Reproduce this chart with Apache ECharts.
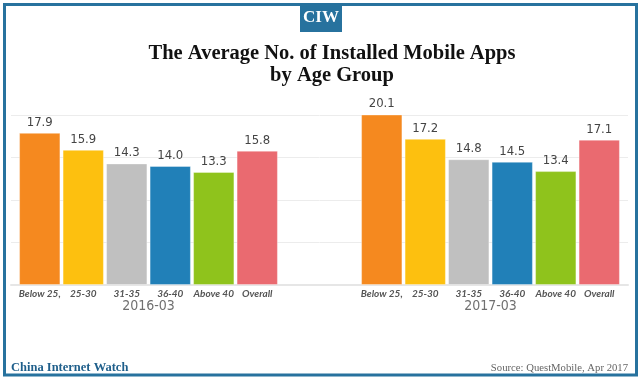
<!DOCTYPE html>
<html><head><meta charset="utf-8">
<script src="https://cdn.jsdelivr.net/npm/echarts@6/dist/echarts.min.js"></script>
<style>html,body{margin:0;padding:0;background:#fff}#c{width:640px;height:383px}</style>
</head><body><div id="c"></div>
<script>
const categories = ['Below 25,', '25-30', '31-35', '36-40', 'Above 40', 'Overall'];
const periods = ['2016-03', '2017-03'];
const values2016 = [17.9, 15.9, 14.3, 14.0, 13.3, 15.8];
const values2017 = [20.1, 17.2, 14.8, 14.5, 13.4, 17.1];
const yTicks = [0, 5, 10, 15, 20];

const barColors = ['#f5891f', '#fdc00f', '#c0c0c0', '#2180b8', '#8fc31c', '#ea6a70'];
const chart = echarts.init(document.getElementById('c'));
const GT = 115, GB = 98;
const yMin = yTicks[0], yMax = yTicks[yTicks.length - 1], yStep = yTicks[1] - yTicks[0];

function barSeries(vals, idx) {
  return {
    type: 'bar', xAxisIndex: idx, yAxisIndex: idx,
    barCategoryGap: '5%',
    data: vals.map((v, i) => ({ value: v, itemStyle: { color: barColors[i], borderColor: 'rgba(255,255,255,0.35)', borderWidth: 1 } })),
    label: { show: true, position: 'top', distance: 4, color: '#444', fontSize: 13,
      fontFamily: '"Liberation Sans Narrow", "DejaVu Sans Condensed", Roboto, sans-serif',
      formatter: p => p.value.toFixed(1) }
  };
}
function catAxis(gi) {
  return { type: 'category', gridIndex: gi, data: categories,
    axisLine: { show: false }, axisTick: { show: false },
    axisLabel: { interval: 0, margin: 4, fontSize: 10, fontStyle: 'italic', fontWeight: 'bold', color: '#555', fontFamily: 'Lato, "Open Sans", sans-serif' } };
}
function periodAxis(gi, p) {
  return { type: 'category', gridIndex: gi, position: 'bottom', data: [p],
    axisLine: { show: false }, axisTick: { show: false },
    axisLabel: { margin: 14, fontSize: 14, color: '#707070', fontFamily: '"Liberation Sans Narrow", "DejaVu Sans Condensed", sans-serif' } };
}
function valAxis(gi, showGrid) {
  return { type: 'value', gridIndex: gi, min: yMin, max: yMax, interval: yStep,
    axisLabel: { show: false }, axisLine: { show: false }, axisTick: { show: false },
    splitLine: { show: showGrid, lineStyle: { color: '#ececec', width: 1 } } };
}

chart.setOption({
  animation: false,
  title: { text: 'The Average No. of Installed Mobile Apps\nby Age Group', left: 327, top: 38, textAlign: 'center',
    textStyle: { fontFamily: '"Liberation Serif", "DejaVu Serif", serif', fontWeight: 'bold', fontSize: 20.5, color: '#111', lineHeight: 22 } },
  grid: [
    { left: 11, right: 12, top: GT, bottom: GB },
    { left: 18, width: 261, top: GT, bottom: GB },
    { left: 360, width: 261, top: GT, bottom: GB }
  ],
  xAxis: [
    { type: 'value', gridIndex: 0, min: 0, max: 1, axisLabel: { show: false }, axisTick: { show: false }, splitLine: { show: false },
      axisLine: { show: true, lineStyle: { color: '#e6e6e6', width: 2 } } },
    catAxis(1), catAxis(2), periodAxis(1, periods[0]), periodAxis(2, periods[1])
  ],
  yAxis: [ valAxis(0, true), valAxis(1, false), valAxis(2, false) ],
  series: [ barSeries(values2016, 1), barSeries(values2017, 2) ],
  graphic: [
    { type: 'rect', shape: { x: 4.5, y: 4.5, width: 632, height: 370.5 }, style: { fill: 'none', stroke: '#27729e', lineWidth: 3 } },
    { type: 'rect', shape: { x: 300, y: 4, width: 42, height: 28 }, style: { fill: '#27729e' } },
    { type: 'text', x: 321, y: 18, style: { text: 'CIW', fill: '#fff', font: 'bold 17px "Liberation Serif", serif', align: 'center', verticalAlign: 'middle' } },
    { type: 'text', x: 11, y: 368, style: { text: 'China Internet Watch', fill: '#1f5f8b', font: 'bold 12.5px "Liberation Serif", serif', verticalAlign: 'middle' } },
    { type: 'text', x: 628, y: 368, style: { text: 'Source: QuestMobile, Apr 2017', fill: '#666', font: '10.7px "Liberation Serif", serif', align: 'right', verticalAlign: 'middle' } }
  ]
});
</script></body></html>
